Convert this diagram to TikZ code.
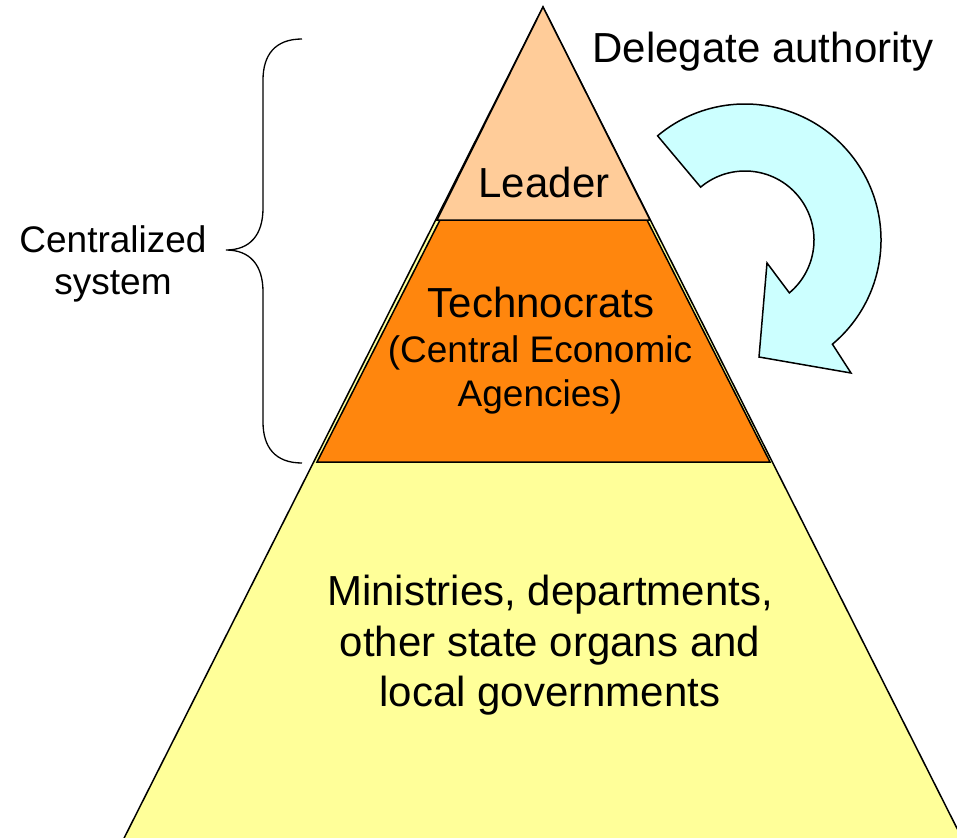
\documentclass[tikz,border=0pt]{standalone}
\usepackage{fontspec}
\setmainfont{Liberation Sans}
\usetikzlibrary{calc}
\definecolor{baseyellow}{HTML}{FFFF99}
\definecolor{midorange}{HTML}{FF860D}
\definecolor{toppeach}{HTML}{FFCC99}
\definecolor{arrowcyan}{HTML}{CCFFFF}
\tikzset{
  layer/.style={draw=black, line width=1.5pt, line join=miter},
  bigtxt/.style={font=\fontsize{42}{50}\selectfont, anchor=base, inner sep=0pt},
  midtxt/.style={font=\fontsize{37}{44}\selectfont, anchor=base, inner sep=0pt},
  sidetxt/.style={font=\fontsize{37}{44}\selectfont, anchor=base, inner sep=0pt},
}
\begin{document}
\begin{tikzpicture}[x=1pt,y=1pt]
\useasboundingbox (0,0) rectangle (957,-837);
% base triangle
\draw[layer, fill=baseyellow] (543,-7) -- (108,-870) -- (978,-870) -- cycle;
% technocrats trapezoid
\draw[layer, fill=midorange] (440,-220) -- (647,-220) -- (770,-462) -- (317,-462) -- cycle;
% leader triangle
\draw[layer, fill=toppeach] (543,-7) -- (650,-220) -- (437,-220) -- cycle;
% texts
\node[bigtxt] (leader) at (544,-197) {Leader};
\node[bigtxt] (techno) at (541,-317) {Technocrats};
\node[midtxt] (cea1) at (540,-362) {(Central Economic};
\node[midtxt] (cea2) at (540,-406) {Agencies)};
\node[bigtxt] (min1) at (550,-605) {Ministries, departments,};
\node[bigtxt] (min2) at (550,-656) {other state organs and};
\node[bigtxt] (min3) at (550,-706) {local governments};
\node[bigtxt] (deleg) at (763,-63) {Delegate authority};
\node[sidetxt] (cent1) at (113,-252) {Centralized};
\node[sidetxt] (cent2) at (113,-294) {system};
% brace
\draw[line width=1.3pt] (302,-39) .. controls (275,-39) and (263,-55) .. (263,-80)
  -- (263,-208) .. controls (263,-235) and (250,-250) .. (226,-250)
  .. controls (250,-250) and (263,-265) .. (263,-292)
  -- (263,-422) .. controls (263,-447) and (275,-463) .. (302,-463);
% curved arrow
\coordinate (ac) at (745,-240);
\draw[line width=1.5pt, fill=arrowcyan, line join=miter]
  ($(ac)+(130:136)$) arc[start angle=130, end angle=-50, radius=136]
  -- (851,-373) -- (759,-357) -- (767,-263)
  -- ($(ac)+(-50:69)$) arc[start angle=-50, end angle=130, radius=69]
  -- cycle;
\end{tikzpicture}
\end{document}
